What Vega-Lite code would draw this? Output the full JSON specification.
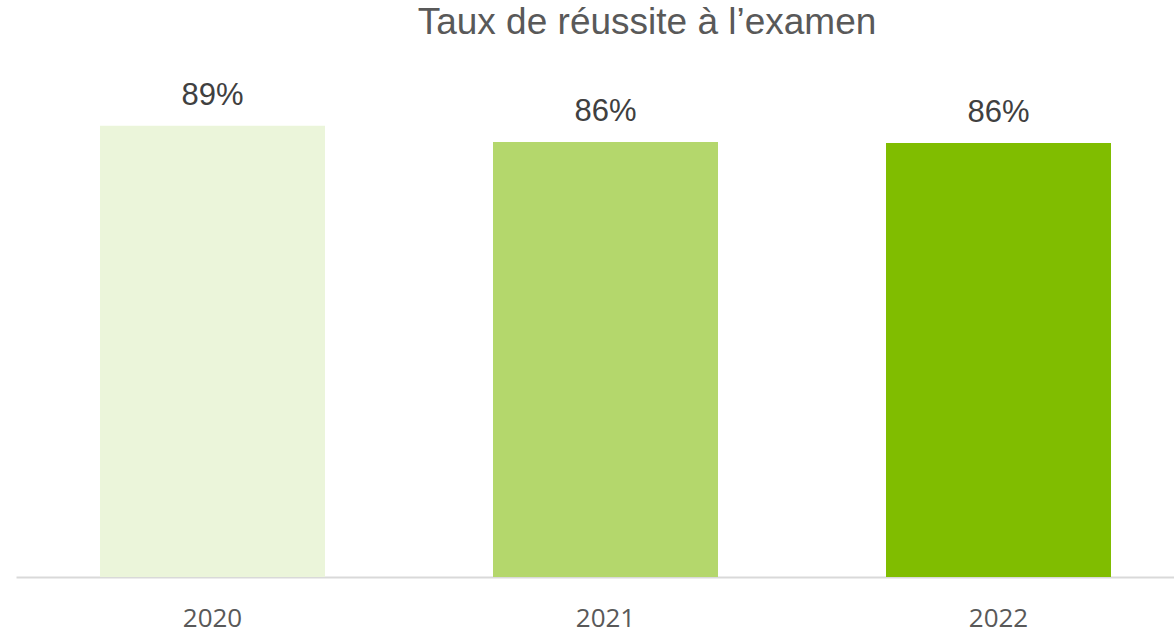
{
  "$schema": "https://vega.github.io/schema/vega-lite/v6.json",
  "autosize": "none",
  "width": 1158,
  "height": 507,
  "padding": {"left": 16, "top": 70, "right": 0, "bottom": 55},
  "background": "white",
  "title": {
    "text": "Taux de réussite à l’examen",
    "font": "Liberation Sans",
    "fontSize": 37,
    "fontWeight": "normal",
    "color": "#595959",
    "anchor": "middle",
    "frame": "group",
    "baseline": "alphabetic",
    "offset": -1,
    "dx": 52
  },
  "data": {
    "values": [
      {"annee": "2020", "taux": 89.0, "label": "89%"},
      {"annee": "2021", "taux": 85.8, "label": "86%"},
      {"annee": "2022", "taux": 85.6, "label": "86%"}
    ]
  },
  "encoding": {
    "x": {
      "field": "annee",
      "type": "nominal",
      "title": null,
      "scale": {"range": [0, 1179], "paddingInner": 0.4275, "paddingOuter": 0.21375},
      "axis": {
        "labelAngle": 0,
        "ticks": false,
        "grid": false,
        "domainColor": "#d9d9d9",
        "domainWidth": 2,
        "labelFont": "Open Sans",
        "labelFontSize": 26,
        "labelColor": "#595959",
        "labelPadding": 49,
        "labelBaseline": "alphabetic"
      }
    },
    "y": {
      "field": "taux",
      "type": "quantitative",
      "scale": {"domain": [0, 100]},
      "axis": null
    }
  },
  "layer": [
    {
      "mark": {"type": "bar"},
      "encoding": {
        "color": {
          "field": "annee",
          "type": "nominal",
          "scale": {"domain": ["2020", "2021", "2022"], "range": ["#EBF5DA", "#B4D76C", "#80BD00"]},
          "legend": null
        }
      }
    },
    {
      "mark": {
        "type": "text",
        "font": "Liberation Sans",
        "fontSize": 31,
        "color": "#404040",
        "baseline": "alphabetic",
        "dy": -21
      },
      "encoding": {"text": {"field": "label"}}
    }
  ],
  "config": {"view": {"stroke": null}}
}
